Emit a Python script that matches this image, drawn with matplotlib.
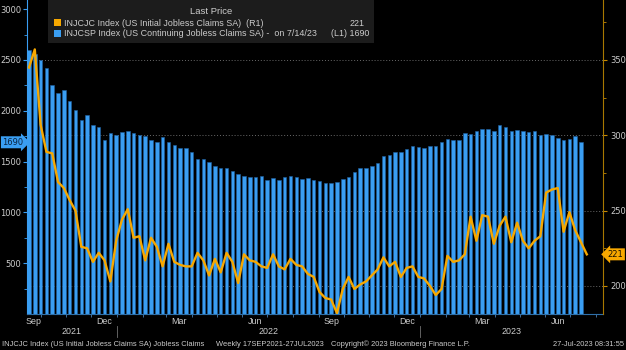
import pandas as pd
import matplotlib
matplotlib.use("Agg")
import matplotlib.pyplot as plt
import matplotlib.dates as mdates
import matplotlib.transforms as mtransforms
from matplotlib.patches import Rectangle

# US continuing jobless claims SA (thousands), weekly, 17-Sep-2021 .. 14-Jul-2023
continuing = [2599, 2560, 2497, 2425, 2254, 2175, 2204, 2099, 2007, 1905,
              1961, 1856, 1836, 1708, 1777, 1763, 1790, 1796, 1777, 1763,
              1750, 1708, 1695, 1740, 1695, 1665, 1635, 1635, 1592, 1530,
              1523, 1500, 1461, 1438, 1438, 1405, 1382, 1362, 1349, 1345,
              1359, 1319, 1342, 1319, 1349, 1359, 1349, 1332, 1342, 1319,
              1306, 1290, 1290, 1303, 1329, 1349, 1395, 1438, 1441, 1454,
              1487, 1553, 1560, 1599, 1599, 1626, 1652, 1645, 1632, 1658,
              1658, 1691, 1724, 1717, 1717, 1783, 1773, 1803, 1816, 1823,
              1803, 1862, 1843, 1803, 1809, 1796, 1790, 1796, 1757, 1773,
              1763, 1730, 1717, 1724, 1750, 1690]

# US initial jobless claims SA (thousands), weekly, 17-Sep-2021 .. 21-Jul-2023
initial = [345, 357, 307, 289, 288, 269, 265, 257, 250, 226,
           225, 216, 222, 217, 203, 230, 244, 251, 232, 233,
           217, 232, 226, 213, 228, 216, 214, 213, 213, 222,
           217, 207, 218, 209, 222, 216, 202, 221, 217, 216,
           213, 212, 221, 213, 211, 218, 214, 213, 208, 206,
           196, 192, 191, 182, 198, 206, 198, 201, 203, 207,
           211, 219, 213, 216, 206, 212, 213, 206, 205, 200,
           194, 198, 220, 216, 217, 221, 246, 230, 247, 246,
           228, 240, 246, 229, 242, 230, 225, 230, 233, 262,
           264, 265, 236, 249, 237, 229, 221]

dates_cont = pd.date_range("2021-09-17", periods=len(continuing), freq="7D")
dates_init = pd.date_range("2021-09-17", periods=len(initial), freq="7D")

month_labels = ["Sep", "Dec", "Mar", "Jun", "Sep", "Dec", "Mar", "Jun"]
month_label_dates = ["2021-09", "2021-12", "2022-03", "2022-06",
                     "2022-09", "2022-12", "2023-03", "2023-06"]
years = ["2021", "2022", "2023"]

BLUE = "#3a9ef2"
ORANGE = "#f7a800"
GRAY = "#cccccc"
FONT = ["Liberation Sans", "DejaVu Sans"]

W, H = 626, 350


def px(x, y):
    return x / W, 1 - y / H


fig = plt.figure(figsize=(W / 100, H / 100), dpi=100, facecolor="black")
ax = fig.add_axes([27 / W, 36 / H, 576 / W, 314 / H])
ax.set_facecolor("black")

x0 = mdates.date2num(dates_init[0]) - 2.4
x1 = mdates.date2num(dates_init[-1]) + 19.5
ax.set_xlim(x0, x1)
ylo, yhi = 0, 3090
rlo, rhi = 181.4, 389.8
ax.set_ylim(ylo, yhi)

# dotted grid at the right-axis levels, behind the bars
for v in [200, 250, 300, 350]:
    yv = ylo + (v - rlo) / (rhi - rlo) * (yhi - ylo)
    ax.axhline(yv, color="#6a6a6a", lw=0.7, ls=(0, (1, 2)), zorder=0)

ax.bar(dates_cont, continuing, width=4.2, color=BLUE, edgecolor="#1f5f9e",
       linewidth=0.4, zorder=2)

ax.set_yticks(range(500, 3001, 500))
ax.set_yticks(range(250, 3001, 250), minor=True)
ax.tick_params(axis="y", which="both", colors=BLUE, labelcolor=GRAY,
               labelsize=6, direction="out", pad=1)
ax.tick_params(axis="y", which="major", length=3)
ax.tick_params(axis="y", which="minor", length=2)

# month ticks along the bottom, labels drawn as text
month_starts = pd.date_range("2021-10-01", "2023-08-01", freq="MS")
ax.set_xticks(mdates.date2num(month_starts), minor=True)
ax.set_xticks([])
ax.tick_params(axis="x", which="minor", length=2, colors="#4a7fb5")

ax.spines["top"].set_visible(False)
ax.spines["right"].set_visible(False)
ax.spines["left"].set_color(BLUE)
ax.spines["bottom"].set_color("#2f6fa8")

xt = mtransforms.blended_transform_factory(ax.transData, fig.transFigure)
for lab, m in zip(month_labels, month_label_dates):
    ms = mdates.date2num(pd.Timestamp(m + "-01"))
    me = mdates.date2num(pd.Timestamp(m + "-01") + pd.offsets.MonthBegin(1))
    c = (max(ms, x0) + min(me, x1)) / 2
    ax.text(c, 1 - 321 / H, lab, transform=xt, ha="center", va="center",
            color=GRAY, fontsize=6.4, family=FONT)

for i, yr in enumerate(years):
    ys = mdates.date2num(pd.Timestamp(yr + "-01-01"))
    ye = mdates.date2num(pd.Timestamp(str(int(yr) + 1) + "-01-01"))
    c = (max(ys, x0) + min(ye, x1)) / 2
    ax.text(c, 1 - 331 / H, yr, transform=xt, ha="center", va="center",
            color=GRAY, fontsize=6.4, family=FONT)
    if i > 0:
        ax.plot([ys, ys], [1 - 326 / H, 1 - 337 / H], transform=xt,
                color="#707070", lw=0.6, clip_on=False)

# right axis: initial claims line
ax2 = ax.twinx()
ax2.set_ylim(rlo, rhi)
ax2.plot(dates_init, initial, color=ORANGE, lw=1.7, solid_joinstyle="round",
         zorder=3)
ax2.set_yticks([200, 250, 300, 350])
ax2.set_yticks([225, 275, 325, 375], minor=True)
ax2.tick_params(axis="y", which="both", colors="#c88a00", labelcolor=GRAY,
                labelsize=6, direction="out", pad=2)
ax2.tick_params(axis="y", which="major", length=3)
ax2.tick_params(axis="y", which="minor", length=2)
for side in ["top", "left", "bottom"]:
    ax2.spines[side].set_visible(False)
ax2.spines["right"].set_color("#a87800")

# last value tags
lt = mtransforms.blended_transform_factory(ax.transAxes, ax.transData)
ax.text(-0.006, continuing[-1], f"{continuing[-1]}", transform=lt, ha="right",
        va="center", fontsize=6, color="#0a2340", clip_on=False, zorder=6,
        bbox=dict(boxstyle="rarrow,pad=0.18", fc=BLUE, ec="none"))
rt = mtransforms.blended_transform_factory(ax2.transAxes, ax2.transData)
ax2.text(1.008, initial[-1], f"{initial[-1]}", transform=rt, ha="left",
         va="center", fontsize=6, color="#1a1200", clip_on=False, zorder=6,
         bbox=dict(boxstyle="larrow,pad=0.18", fc=ORANGE, ec="none"))

# legend box
fig.patches.append(Rectangle(px(48, 43), 326 / W, 43 / H, transform=fig.transFigure,
                             fc="#1c1c1c", ec="none", zorder=5))
fig.text(*px(211, 12), "Last Price", ha="center", va="center", color=GRAY,
         fontsize=6.8, family=FONT, zorder=6)
fig.patches.append(Rectangle(px(54, 26), 7 / W, 7 / H, transform=fig.transFigure,
                             fc=ORANGE, ec="none", zorder=6))
fig.patches.append(Rectangle(px(54, 37), 7 / W, 7 / H, transform=fig.transFigure,
                             fc=BLUE, ec="none", zorder=6))
fig.text(*px(64, 23), "INJCJC Index (US Initial Jobless Claims SA)  (R1)",
         ha="left", va="center", color=GRAY, fontsize=6.4, family=FONT, zorder=6)
fig.text(*px(365, 23), f"{initial[-1]}", ha="right", va="center", color=GRAY,
         fontsize=6.4, family=FONT, zorder=6)
fig.text(*px(64, 33.5), "INJCSP Index (US Continuing Jobless Claims SA) -  on 7/14/23",
         ha="left", va="center", color=GRAY, fontsize=6.4, family=FONT, zorder=6)
fig.text(*px(369, 33.5), f"(L1) {continuing[-1]}", ha="right", va="center",
         color=GRAY, fontsize=6.4, family=FONT, zorder=6)

# footer
fig.text(*px(2, 344), "INJCJC Index (US Initial Jobless Claims SA) Jobless Claims",
         ha="left", va="center", color=GRAY, fontsize=5.4, family=FONT)
fig.text(*px(216, 344), "Weekly 17SEP2021-27JUL2023", ha="left", va="center",
         color=GRAY, fontsize=5.4, family=FONT)
fig.text(*px(331, 344), "Copyright\u00a9 2023 Bloomberg Finance L.P.", ha="left",
         va="center", color=GRAY, fontsize=5.4, family=FONT)
fig.text(*px(624, 344), "27-Jul-2023 08:31:55", ha="right", va="center",
         color=GRAY, fontsize=5.4, family=FONT)

fig.savefig("out.png", dpi=100, facecolor="black")
